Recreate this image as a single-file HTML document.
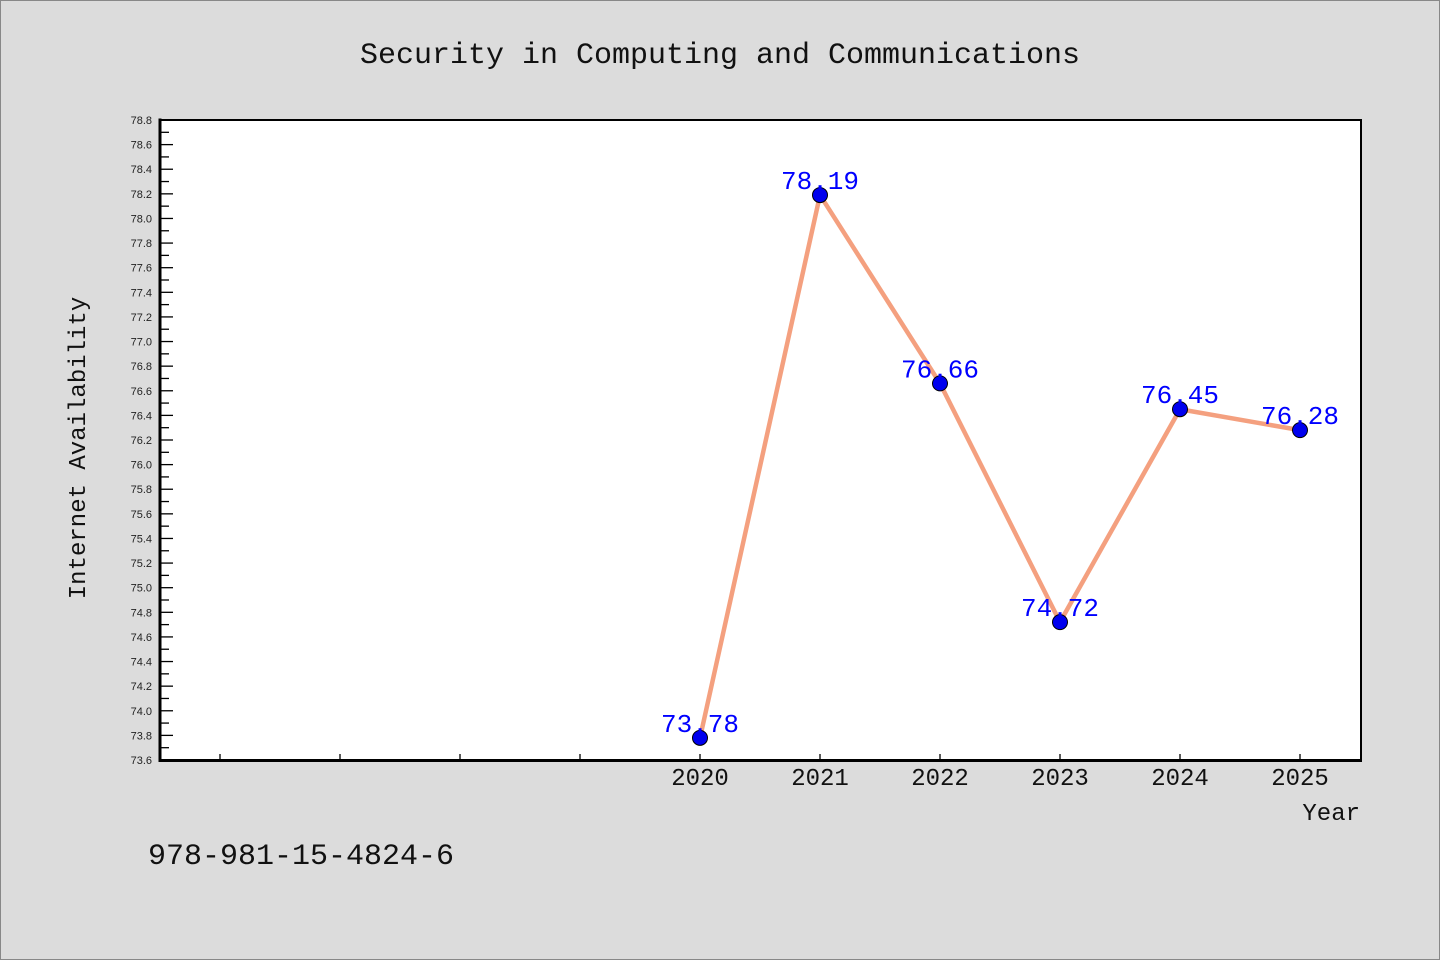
<!DOCTYPE html>
<html><head><meta charset="utf-8"><style>
html,body{margin:0;padding:0;background:#dcdcdc;}
svg{display:block;font-family:"Liberation Mono","WenQuanYi Zen Hei",monospace;}
</style></head><body>
<svg id="chart" width="1440" height="960" viewBox="0 0 1440 960">
<rect x="0.5" y="0.5" width="1439" height="959" fill="#dcdcdc" stroke="#888"/>
<text x="720" y="63" text-anchor="middle" font-size="30" fill="#111">Security in Computing and Communications</text>
<rect x="160" y="120" width="1201" height="640" fill="#fff" stroke="#000" stroke-width="2"/>
<g id="yticks"></g>
<g id="xticks"></g>
<line x1="160" y1="118.5" x2="160" y2="762" stroke="#000" stroke-width="3"/>
<line x1="158.5" y1="760.5" x2="1362" y2="760.5" stroke="#000" stroke-width="3"/>
<g id="series"></g>
<text transform="translate(85,448) rotate(-90)" text-anchor="middle" font-size="24" fill="#111">Internet Availability</text>
<text x="1360" y="820" text-anchor="end" font-size="24" fill="#111">Year</text>
<text x="148" y="864" font-size="30" fill="#111">978-981-15-4824-6</text>
</svg>
<script>
const years = [2020, 2021, 2022, 2023, 2024, 2025];
const values = [73.78, 78.19, 76.66, 74.72, 76.45, 76.28];
const valueLabels = ["73.78", "78.19", "76.66", "74.72", "76.45", "76.28"];
const xTickYears = [2016, 2017, 2018, 2019, 2020, 2021, 2022, 2023, 2024, 2025];
const yMin = 73.6, yMax = 78.8;
const NS = "http://www.w3.org/2000/svg";
function xs(v){ return 160 + (v - 2015.5) * 120; }
function ys(v){ return 760 - (v - yMin) / (yMax - yMin) * 640; }
function mk(tag, attrs, parent){ const e=document.createElementNS(NS,tag); for(const k in attrs) e.setAttribute(k,attrs[k]); parent.appendChild(e); return e; }
const yg=document.getElementById('yticks');
for(let i=0;i<=52;i++){
  const v=yMin+i*0.1, y=ys(v), major=i%2===0;
  if(i>0 && i<52){
    const t=mk('line',{x1:160,x2:160+(major?13:9),y1:y,y2:y,stroke:'#000','stroke-width':1.3},yg);
    
    
  }
  if(major){
    const l=mk('text',{x:152,y:y+4,'text-anchor':'end','font-size':11,fill:'#222','font-family':'Liberation Sans, sans-serif'},yg);
    l.textContent=v.toFixed(1);
    
    
  }
}
const xg=document.getElementById('xticks');
xTickYears.forEach(yr=>{
  const x=xs(yr);
  const t=mk('line',{x1:x,x2:x,y1:760,y2:754,stroke:'#000','stroke-width':1.3},xg);
  
  
  if(years.includes(yr)){
    const l=mk('text',{x:x,y:785,'text-anchor':'middle','font-size':24,fill:'#111'},xg);
    l.textContent=String(yr);
    
    
  }
});
const sg=document.getElementById('series');
const pts=years.map((y,i)=>xs(y)+','+ys(values[i])).join(' ');
const pl=mk('polyline',{points:pts,fill:'none',stroke:'#f4a07f','stroke-width':4.5,'stroke-linejoin':'round'},sg);


years.forEach((y,i)=>{
  const c=mk('circle',{cx:xs(y),cy:ys(values[i]),r:7.5,fill:'#0000ee',stroke:'#000','stroke-width':1},sg);
  
  
  const l=mk('text',{x:xs(y),y:ys(values[i])-6,'text-anchor':'middle','font-size':26,fill:'#0000ff'},sg);
  l.textContent=valueLabels[i];
  
  
});
</script>
</body></html>
